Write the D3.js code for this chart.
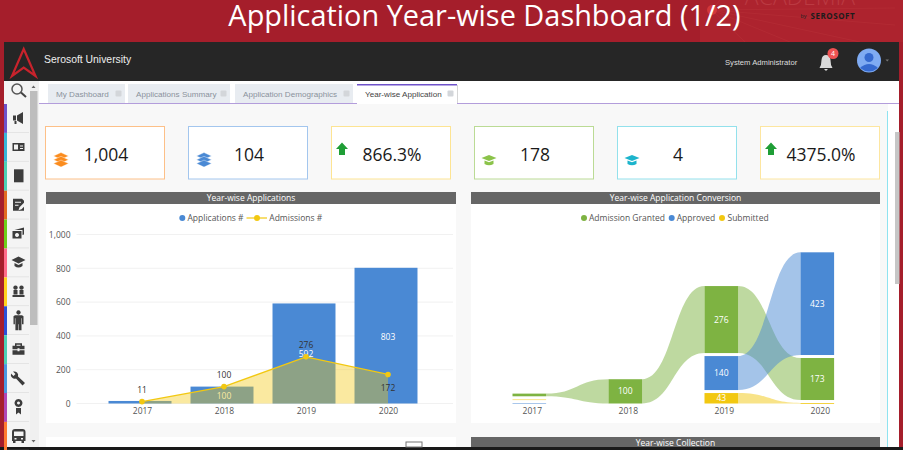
<!DOCTYPE html>
<html>
<head>
<meta charset="utf-8">
<script src="https://cdn.jsdelivr.net/npm/d3@7"></script>
<style>
html, body { margin: 0; padding: 0; background: #a51e2b; overflow: hidden; }
svg { display: block; }
text { font-family: "Open Sans", sans-serif; }
.arial { font-family: "Liberation Sans", Arial, sans-serif; }
.axis .domain, .axis .tick line { display: none; }
.axis text { font-family: "Open Sans", sans-serif; font-size: 8.5px; fill: #555; }
</style>
</head>
<body>
<svg id="chart" width="903" height="450"></svg>
<script>
// chart values
var years = ["2017", "2018", "2019", "2020"];
var applications = [15, 100, 592, 803];
var admissions = [11, 100, 276, 172];
var yTicks = [0, 200, 400, 600, 800, 1000];

var granted = [11, 100, 276, 173];
var approved = [2, null, 140, 423];
var submitted = [3, null, 43, 2];
var stackOrder = [
    ["granted", "submitted", "approved"],
    ["granted", "submitted", "approved"],
    ["granted", "approved", "submitted"],
    ["approved", "granted", "submitted"]
];

var cardValues = ["1,004", "104", "866.3%", "178", "4", "4375.0%"];
var cardColors = ["#fdc088", "#a3c6ee", "#fde493", "#bbdb95", "#93e1ec", "#fde6a0"];
var tabNames = ["My Dashboard", "Applications Summary", "Application Demographics", "Year-wise Application"];
var sideColors = ["#6f52c9", "#38b6d8", "#4dd0b5", "#e26b20", "#6fce1a", "#ff6b8a", "#ffd21f", "#2a50d8", "#4dd0b5", "#4a98e0", "#b045b5", "#ff7a30"];

var blue = "#4a89d4", yellow = "#f2c811", green = "#7eb342";
var svg = d3.select("#chart");

function rect(x, y, w, h, fill) {
    return svg.append("rect").attr("x", x).attr("y", y).attr("width", w).attr("height", h).attr("fill", fill);
}
function label(g, x, y, str, size, fill, anchor) {
    return g.append("text").attr("x", x).attr("y", y).attr("font-size", size)
        .attr("fill", fill).attr("text-anchor", anchor || "middle").text(str);
}

// top banner
rect(700, 0, 203, 42, "#ad232e");
var deco = svg.append("g").attr("stroke", "#c03a40").attr("stroke-width", 0.6).attr("opacity", 0.5);
[[895, 8], [895, 25], [860, 42], [790, 42], [745, 42], [720, 0]].forEach(function (p) {
    deco.append("line").attr("x1", 712).attr("y1", 10).attr("x2", p[0]).attr("y2", p[1]);
});
svg.append("circle").attr("cx", 712).attr("cy", 10).attr("r", 5).attr("fill", "#d2373a");
label(svg, 800, 5, "ACADEMIA", 23, "#bb3a42").attr("font-weight", 300);
label(svg, 484.5, 25.5, "Application Year-wise Dashboard (1/2)", 28.9, "#fff");
label(svg, 803.5, 18, "by", 5.5, "#222");
svg.append("text").attr("x", 810.5).attr("y", 18.5).attr("font-size", 8).attr("font-weight", 700)
    .attr("letter-spacing", 0.55).attr("fill", "#1c1c1c").text("SEROSOFT");

// app frame
rect(4, 42, 895, 39, "#262626");
rect(4, 81, 895, 366, "#f8f8f8");
rect(0, 447, 903, 3, "#1a1a1a");
svg.append("path").attr("d", "M23.7 49 L35.5 76 L23.7 67.5 L12 76 Z").attr("fill", "none").attr("stroke", "#c8232c").attr("stroke-width", 2.2);
label(svg, 44, 63, "Serosoft University", 10.4, "#eee", "start").attr("class", "arial");
label(svg, 725, 65, "System Administrator", 7.65, "#ddd", "start").attr("class", "arial");
svg.append("path").attr("d", "M826 55 q-4 0 -4.5 5 q0 5 -2 8 h13 q-2 -3 -2 -8 q-.5 -5 -4.5 -5 Z M824 69 h4 l-2 2 Z").attr("fill", "#d9d9d9");
svg.append("circle").attr("cx", 833).attr("cy", 53.5).attr("r", 5.5).attr("fill", "#ee5253");
label(svg, 833, 56, "4", 7, "#fff");
svg.append("circle").attr("cx", 869).attr("cy", 60.5).attr("r", 12).attr("fill", "#7fabf2");
svg.append("circle").attr("cx", 869).attr("cy", 57.5).attr("r", 4.5).attr("fill", "#3569cf");
svg.append("path").attr("d", "M860 68 q9 -8 18 0 q-9 7 -18 0 Z").attr("fill", "#3569cf");
svg.append("path").attr("d", "M885.5 59.5 h3.5 l-1.75 2 Z").attr("fill", "#777");

// tabs
rect(39, 81, 860, 22, "#fff");
rect(39, 103, 860, 1, "#b39ddb");
var tabX = [48, 128, 235, 357], tabW = [77, 102, 118, 100];
tabNames.forEach(function (name, i) {
    var active = i === 3;
    rect(tabX[i], 84, tabW[i], active ? 20 : 19, active ? "#fff" : "#e8ecf1");
    if (active) {
        rect(tabX[i], 84, tabW[i], 1.5, "#6f52c9");
        rect(tabX[i] + tabW[i], 85, 0.8, 18, "#ccc");
    }
    label(svg, tabX[i] + 8, 97, name, 8.1, active ? "#444" : "#8a929c", "start").attr("class", "arial");
    rect(tabX[i] + tabW[i] - 9.5, 90.5, 6, 6, "#d3d6da").attr("rx", 1);
});

// side bar
rect(4, 81, 35, 366, "#f4f4f4");
sideColors.forEach(function (c, i) {
    rect(4, 104 + i * 28.9, 3, 28.9, c);
    rect(7, 132 + i * 28.9, 22, 0.7, "#ddd");
});
rect(30, 81, 9, 366, "#f0f0f0");
rect(30, 91, 7.5, 234, "#bdbdbd");
svg.append("path").attr("d", "M31.5 88 h4 l-2 -2.5 Z M31.5 440 h4 l-2 2.5 Z").attr("fill", "#666");
svg.append("circle").attr("cx", 17).attr("cy", 89).attr("r", 5).attr("fill", "none").attr("stroke", "#555").attr("stroke-width", 1.5);
svg.append("line").attr("x1", 21).attr("y1", 92.5).attr("x2", 26).attr("y2", 97).attr("stroke", "#444").attr("stroke-width", 2);

// icons are even-odd paths centred on the row
var sideIcons = [
    "M13 -2.5 h3 v5 h-3 Z M17 -2.5 l6 -3.5 v12 l-6 -3.5 Z M14.500 3 h2 v3 h-2 Z",
    "M12.500 -4 h12 v8 h-12 Z M14 -2.500 v5 h4 v-5 Z M20 -1.500 v1 h3 v-1 Z M20 1 v1 h3 v-1 Z",
    "M14 -6.500 h9.500 v13 h-9.500 Z",
    "M13 -6 h9 l2 2 v2 l-4.500 4.500 l-1 3 l3 -1 l2.500 -2.500 v4 h-11 Z M15 -3 v1 h6 v-1 Z M15 0 v1 h3.500 v-1 Z",
    "M12.500 -2.500 h9 v7.500 h-9 Z M17 -0.500 a2 2 0 1 0 .01 0 Z M14.500 -3.500 l9.500 -2.500 v7 l-1.500 .5 v-5 h-8 Z",
    "M18.500 -6 l7 3.500 l-7 3.500 l-7 -3.500 Z M14.500 0.500 l4 2 l4 -2 v3 q-4 3 -8 0 Z",
    "M15.500 -6 a2.200 2.200 0 1 1 -.01 0 Z M21.500 -6 a2.200 2.200 0 1 1 -.01 0 Z M13.500 -1.500 h4 v4.500 h-4 Z M19.500 -1.500 h4 v4.500 h-4 Z M12.500 3.500 h12 v2 h-12 Z",
    "M18.500 -10 a2.200 2.200 0 1 1 -.01 0 Z M15 -5 h7 l1.500 1 v8 h-1.500 v-6 h-.5 v12 h-2.800 v-6 h-.5 v6 h-2.800 v-12 h-.5 v6 h-1.400 v-8 Z",
    "M12.500 -3.500 h12 v3.500 h-5 v-1 h-2 v1 h-5 Z M15 -3.500 v-2.500 h7 v2.500 h-1.500 v-1 h-4 v1 Z M12.500 1 h5 v1 h2 v-1 h5 v4.500 h-12 Z",
    "M13 -6.500 a4 4 0 0 1 5 5 l7 6.500 l-2.500 2.500 l-6.500 -7 a4 4 0 0 1 -5 -5 l2.500 2.500 l2 -2 Z",
    "M18.500 -8 a4 4 0 1 1 -.01 0 Z M18.500 -5.500 a1.500 1.500 0 1 0 .01 0 Z M16 1 h5 v6.500 l-2.500 -2 l-2.500 2 Z",
    "M14.500 -7 h8 q3 0 3 3 v9 h-1.500 v2 h-2.500 v-2 h-6 v2 h-2.500 v-2 h-1 v-9 q0 -3 3 -3 Z M14 -4.500 v4.500 h9.500 v-4.500 Z M14.500 2 v1.500 h2 v-1.500 Z M21 2 v1.500 h2 v-1.500 Z"
];
sideIcons.forEach(function (d, i) {
    svg.append("path").attr("d", d).attr("fill", "#3d3d3d").attr("fill-rule", "evenodd")
        .attr("transform", "translate(0," + (118 + i * 28.9) + ")");
});

// cards
var cardX = [45, 188, 331, 474, 617, 760];
var cardTextX = [106, 249, 392, 535, 678, 821];
cardValues.forEach(function (v, i) {
    rect(cardX[i] + 0.5, 126.5, 119, 52.5, "#fff").attr("stroke", cardColors[i]).attr("stroke-width", 1);
    label(svg, cardTextX[i], 161, v, 17.5, "#1a1a1a");
});
function stackIcon(x, c) {
    [0, 1, 2].forEach(function (k) {
        svg.append("path").attr("d", "M" + (x - 7.5) + " " + (156 + k * 3.8) + " l7.5 -3.5 l7.5 3.5 l-7.5 3.5 Z")
            .attr("fill", c).attr("stroke", "#fff").attr("stroke-width", 0.4);
    });
}
function capIcon(x, c) {
    svg.append("path").attr("d", "M" + (x - 7.5) + " 158 l7.5 -3 l7.5 3 l-7.5 3 Z").attr("fill", c);
    svg.append("path").attr("d", "M" + (x - 4.5) + " 160.5 l4.5 1.8 l4.5 -1.8 v3.5 q-4.5 2.5 -9 0 Z").attr("fill", c);
}
function arrowIcon(x, c) {
    svg.append("path").attr("d", "M" + x + " 142.5 l6 6.5 h-3 v6 h-6 v-6 h-3 Z").attr("fill", c);
}
stackIcon(61, "#fb8c1e");
stackIcon(204, "#4a89d4");
arrowIcon(342, "#1f9e36");
capIcon(489, "#8bc34a");
capIcon(632, "#1cb4cc");
arrowIcon(771, "#1f9e36");

// panels
rect(887, 111, 1, 336, "#8fe3f0");
rect(888, 104, 11, 343, "#fff");
rect(895, 132, 4.5, 152, "#c6c6c6");

function panel(x, w, title) {
    rect(x, 204, w, 219, "#fff");
    rect(x, 192, w, 12, "#666");
    label(svg, x + w / 2, 201, title, 8.5, "#fff");
}
panel(46, 410, "Year-wise Applications");
panel(471, 409, "Year-wise Application Conversion");
rect(46, 437, 410, 10, "#fff");
rect(471, 437, 409, 10, "#666");
label(svg, 675.5, 446, "Year-wise Collection", 8.5, "#fff");
rect(406, 442, 16, 5, "#fff").attr("stroke", "#777").attr("stroke-width", 1);

// left chart: bars and area line
var yLeft = d3.scaleLinear().domain([0, 1000]).range([403.5, 234.5]);
var xBars = d3.scaleBand().domain(years).range([99, 427]).paddingInner(0.232).paddingOuter(0.116);
var xLine = d3.scalePoint().domain(years).range([142, 388]);

var left = svg.append("g");
left.append("g").selectAll("line").data(yTicks).join("line")
    .attr("x1", 76.5).attr("x2", 453)
    .attr("y1", function (d) { return yLeft(d); })
    .attr("y2", function (d) { return yLeft(d); })
    .attr("stroke", "#eeeeee").attr("stroke-width", 0.8);
left.append("g").attr("class", "axis").attr("transform", "translate(70.5,0)")
    .call(d3.axisLeft(yLeft).tickValues(yTicks).tickSize(0).tickPadding(0).tickFormat(d3.format(",")));
left.append("g").attr("class", "axis").attr("transform", "translate(0,408)")
    .call(d3.axisBottom(xLine).tickSize(0).tickPadding(0));

left.append("g").selectAll("rect").data(years).join("rect")
    .attr("x", function (d) { return xBars(d); })
    .attr("width", xBars.bandwidth())
    .attr("y", function (d, i) { return yLeft(applications[i]); })
    .attr("height", function (d, i) { return yLeft(0) - yLeft(applications[i]); })
    .attr("fill", blue);
left.append("g").selectAll("text").data(years.filter(function (d, i) { return applications[i] >= 100; })).join("text")
    .attr("x", function (d) { return xLine(d); })
    .attr("y", function (d) { return (yLeft(applications[years.indexOf(d)]) + yLeft(0)) / 2 + 4; })
    .attr("text-anchor", "middle").attr("font-size", 8.5).attr("fill", "#fff")
    .text(function (d) { return applications[years.indexOf(d)]; });

var area = d3.area()
    .x(function (d, i) { return xLine(years[i]); })
    .y0(yLeft(0))
    .y1(function (d) { return yLeft(d); });
left.append("path").datum(admissions).attr("d", area).attr("fill", yellow).attr("opacity", 0.4);
var line = d3.line()
    .x(function (d, i) { return xLine(years[i]); })
    .y(function (d) { return yLeft(d); });
left.append("path").datum(admissions).attr("d", line).attr("fill", "none").attr("stroke", yellow).attr("stroke-width", 1.3);
left.append("g").selectAll("circle").data(admissions).join("circle")
    .attr("cx", function (d, i) { return xLine(years[i]); })
    .attr("cy", function (d) { return yLeft(d); })
    .attr("r", 2.8).attr("fill", yellow);
left.append("g").selectAll("text").data(admissions).join("text")
    .attr("x", function (d, i) { return xLine(years[i]); })
    .attr("y", function (d, i) { return yLeft(d) + (i === 3 ? 16.5 : -9); })
    .attr("text-anchor", "middle").attr("font-size", 8.5).attr("fill", "#333")
    .text(function (d) { return d; });

// left legend
svg.append("circle").attr("cx", 182.3).attr("cy", 218).attr("r", 3).attr("fill", blue);
label(svg, 187.5, 221, "Applications #", 8.5, "#555", "start");
svg.append("line").attr("x1", 246.5).attr("x2", 267).attr("y1", 218).attr("y2", 218).attr("stroke", yellow).attr("stroke-width", 1.2);
svg.append("circle").attr("cx", 257).attr("cy", 218).attr("r", 3).attr("fill", yellow);
label(svg, 269.3, 221, "Admissions #", 8.5, "#555", "start");

// right chart: ribbons between yearly stacks
var seriesData = { granted: granted, approved: approved, submitted: submitted };
var seriesColor = { granted: green, approved: blue, submitted: yellow };
var xNode = d3.scalePoint().domain(years).range([529.3, 817.3]);
var nodeW = 33.6, nodeGap = 3;
var hRight = d3.scaleLinear().domain([0, 423]).range([0, 102.7]);

// stack each year upward from the baseline, following stackOrder
var nodes = {};
years.forEach(function (yr, i) {
    var y = 403.5;
    stackOrder[i].slice().reverse().forEach(function (key) {
        var v = seriesData[key][i];
        if (v === null) return;
        var h = hRight(v);
        nodes[key + i] = { key: key, i: i, value: v, x0: xNode(yr) - nodeW / 2, x1: xNode(yr) + nodeW / 2, y0: y - h, y1: y };
        y -= h + nodeGap;
    });
});

var ribbon = d3.area().curve(d3.curveBumpX)
    .x(function (d) { return d.x; })
    .y0(function (d) { return d.y0; })
    .y1(function (d) { return d.y1; });
var right = svg.append("g");
["granted", "approved", "submitted"].forEach(function (key) {
    years.forEach(function (yr, i) {
        var a = nodes[key + i], b = nodes[key + (i + 1)];
        if (!a || !b) return;
        right.append("path")
            .attr("d", ribbon([{ x: a.x1, y0: a.y0, y1: a.y1 }, { x: b.x0, y0: b.y0, y1: b.y1 }]))
            .attr("fill", seriesColor[key]).attr("opacity", 0.5);
    });
});
var nodeList = Object.keys(nodes).map(function (k) { return nodes[k]; });
right.append("g").selectAll("rect").data(nodeList).join("rect")
    .attr("x", function (d) { return d.x0; })
    .attr("y", function (d) { return d.y0; })
    .attr("width", nodeW)
    .attr("height", function (d) { return Math.max(d.y1 - d.y0, 0.8); })
    .attr("fill", function (d) { return seriesColor[d.key]; })
    .each(function (d) { if (d.i === 0 && d.key !== "granted") d3.select(this).attr("opacity", 0.6); });
right.append("g").selectAll("text").data(nodeList.filter(function (d) { return d.value >= 40; })).join("text")
    .attr("x", function (d) { return (d.x0 + d.x1) / 2; })
    .attr("y", function (d) { return (d.y0 + d.y1) / 2 + 3; })
    .attr("text-anchor", "middle").attr("font-size", 8.5).attr("fill", "#fff")
    .text(function (d) { return d.value; });
right.append("g").attr("class", "axis").attr("transform", "translate(2.5,408)")
    .call(d3.axisBottom(xNode).tickSize(0).tickPadding(0));

// right legend
var legendX = [[584, 589, "Admission Granted", green], [671.7, 676.7, "Approved", blue], [722, 727.5, "Submitted", yellow]];
legendX.forEach(function (l) {
    svg.append("circle").attr("cx", l[0]).attr("cy", 218).attr("r", 3).attr("fill", l[3]);
    label(svg, l[1], 221, l[2], 8.5, "#555", "start");
});
</script>
</body>
</html>
